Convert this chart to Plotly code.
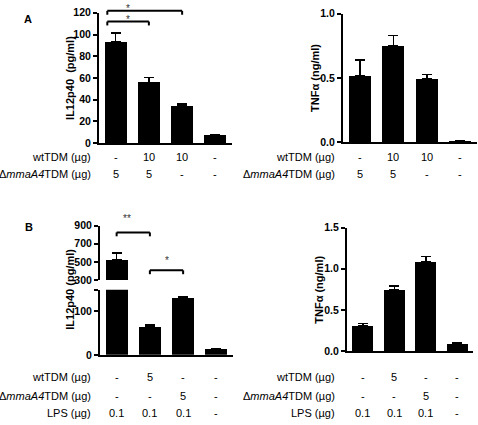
import plotly.graph_objects as go

W, H = 478, 425

# ---------------- data ----------------
groups = [0, 1, 2, 3]

# Panel A
il12_a = [93, 56, 34, 8]
il12_a_err = [8.5, 4.5, 2, 0]
tnf_a = [0.52, 0.75, 0.49, 0.01]
tnf_a_err = [0.12, 0.08, 0.035, 0]
a_row_labels = ["wtTDM (µg)", "Δ<i>mmaA4</i>TDM (µg)"]
a_wt = ["-", "10", "10", "-"]
a_mut = ["5", "5", "-", "-"]
a_sig_pairs = [(0, 2), (0, 1)]
a_sig_text = ["*", "*"]

# Panel B
il12_b = [525, 64, 131, 13]
il12_b_err = [75, 5, 4, 0]
tnf_b = [0.307, 0.745, 1.087, 0.095]
tnf_b_err = [0.025, 0.045, 0.06, 0]
b_row_labels = ["wtTDM (µg)", "Δ<i>mmaA4</i>TDM (µg)", "LPS (µg)"]
b_wt = ["-", "5", "-", "-"]
b_mut = ["-", "-", "5", "-"]
b_lps = ["0.1", "0.1", "0.1", "-"]
b_sig_pairs = [(0, 1), (1, 2)]
b_sig_text = ["**", "*"]

il12_b_break_low = 150   # top of lower segment
il12_b_break_high = 300  # bottom of upper segment

# ---------------- helpers ----------------
def fx(px):
    return px / W

def fy(px):
    return 1 - px / H

FONT = "Liberation Sans, Arial, sans-serif"
BOLD = dict(family=FONT, size=11, color="black")

fig = go.Figure()

def bar(x, y, err, xa, ya):
    fig.add_trace(go.Bar(
        x=x, y=y, xaxis=xa, yaxis=ya, width=0.66,
        marker=dict(color="black", line=dict(width=0)),
        error_y=dict(type="data", symmetric=False, array=err,
                     arrayminus=[0] * len(err), color="black",
                     thickness=1.5, width=5),
        showlegend=False, hoverinfo="skip",
    ))

bar(groups, il12_a, il12_a_err, "x", "y")
bar(groups, tnf_a, tnf_a_err, "x2", "y2")
# broken axis: lower segment
low_err = [e if v <= il12_b_break_low else 0 for v, e in zip(il12_b, il12_b_err)]
bar(groups, il12_b, low_err, "x3", "y3")
# upper segment: only bars that exceed the break
up_vals = [v if v > il12_b_break_high else None for v in il12_b]
up_err = [e if v > il12_b_break_high else 0 for v, e in zip(il12_b, il12_b_err)]
bar(groups, up_vals, up_err, "x3", "y5")
bar(groups, tnf_b, tnf_b_err, "x4", "y4")

def xax(l, r, anchor):
    return dict(domain=[fx(l), fx(r)], anchor=anchor, range=[-0.5, 3.5],
                showticklabels=False, ticks="", showline=True, linewidth=2,
                linecolor="black", showgrid=False, zeroline=False, fixedrange=True)

def yax(b, t, anchor, rng, tv, tt):
    return dict(domain=[fy(b), fy(t)], anchor=anchor, range=rng,
                tickvals=tv, ticktext=tt, ticks="outside", ticklen=4,
                tickwidth=1.5, tickcolor="black", showline=True, linewidth=2,
                linecolor="black", showgrid=False, zeroline=False,
                tickfont=dict(family=FONT, size=10.5, color="black"),
                fixedrange=True)

layout = dict(
    width=W, height=H, margin=dict(l=0, r=0, t=0, b=0),
    paper_bgcolor="white", plot_bgcolor="white", bargap=0,
    xaxis=xax(99, 232, "y"),
    yaxis=yax(141, 7, "x", [0, 120], [0, 20, 40, 60, 80, 100, 120],
              ["<b>%d</b>" % v for v in [0, 20, 40, 60, 80, 100, 120]]),
    xaxis2=xax(343, 477, "y2"),
    yaxis2=yax(140, 8, "x2", [0, 1.0], [0, 0.5, 1.0],
               ["<b>0.0</b>", "<b>0.5</b>", "<b>1.0</b>"]),
    xaxis3=xax(100, 233, "y3"),
    yaxis3=yax(359, 292, "x3", [0, il12_b_break_low], [0, 100, 150],
               ["<b>0</b>", "<b>100</b>", ""]),
    yaxis5=yax(282, 226, "x3", [il12_b_break_high, 900], [300, 500, 700, 900],
               ["<b>300</b>", "<b>500</b>", "<b>700</b>", "<b>900</b>"]),
    xaxis4=xax(347, 473, "y4"),
    yaxis4=yax(355, 228, "x4", [0, 1.5], [0, 0.5, 1.0, 1.5],
               ["<b>0.0</b>", "<b>0.5</b>", "<b>1.0</b>", "<b>1.5</b>"]),
)
fig.update_layout(**layout)

ann = []
shapes = []

# panel letters
ann.append(dict(x=fx(28), y=fy(13), xref="paper", yref="paper", text="<b>A</b>",
                showarrow=False, font=BOLD, xanchor="center", yanchor="middle"))
ann.append(dict(x=fx(29), y=fy(227), xref="paper", yref="paper", text="<b>B</b>",
                showarrow=False, font=BOLD, xanchor="center", yanchor="middle"))

# y axis titles
for x, y, t in [(70, 74, "<b>IL12p40  (pg/ml)</b>"), (315, 74, "<b>TNFα (ng/ml)</b>"),
                (70, 292, "<b>IL12p40 (pg/ml)</b>"), (319, 292, "<b>TNFα (ng/ml)</b>")]:
    ann.append(dict(x=fx(x), y=fy(y), xref="paper", yref="paper", text=t,
                    textangle=-90, showarrow=False,
                    font=dict(family=FONT, size=11, color="black"),
                    xanchor="center", yanchor="middle"))

# condition table rows
REG = dict(family=FONT, size=11, color="black")
def rows(labels, values, ys, label_right, xref):
    for lab, vals, y in zip(labels, values, ys):
        ann.append(dict(x=fx(label_right), y=fy(y), xref="paper", yref="paper",
                        text=lab, showarrow=False, font=REG,
                        xanchor="right", yanchor="middle"))
        for g, v in zip(groups, vals):
            ann.append(dict(x=g, y=fy(y), xref=xref, yref="paper", text=v,
                            showarrow=False, font=REG,
                            xanchor="center", yanchor="middle"))

rows(a_row_labels, [a_wt, a_mut], [155, 173], 93, "x")
rows(a_row_labels, [a_wt, a_mut], [155, 173], 337, "x2")
rows(b_row_labels, [b_wt, b_mut, b_lps], [382, 401, 419], 93, "x3")
rows(b_row_labels, [b_wt, b_mut, b_lps], [382, 401, 419], 337, "x4")

# significance brackets
def bracket(x0, x1, ypx, xref, star, sx, sy):
    for (a, b, c, d) in [(x0, ypx, x1, ypx), (x0, ypx, x0, ypx + 4), (x1, ypx, x1, ypx + 4)]:
        shapes.append(dict(type="line", xref=xref, yref="paper", x0=a, x1=c,
                           y0=fy(b), y1=fy(d), line=dict(color="black", width=2)))
    ann.append(dict(x=sx, y=fy(sy), xref=xref, yref="paper", text=star,
                    showarrow=False, font=dict(family=FONT, size=10, color="#333333"),
                    xanchor="center", yanchor="middle"))

for (i0, i1), s, ypx in zip(a_sig_pairs, a_sig_text, [5, 16]):
    bracket(i0 - 0.25, i1, ypx, "x", s, i0 + 0.37, ypx - 2)
for (i0, i1), s, ypx, sy in zip(b_sig_pairs, b_sig_text, [233, 272], [219, 262]):
    cx = (i0 + i1) / 2
    bracket(i0, i1, ypx, "x3", s, cx - 0.2 if s == "**" else cx, sy)

fig.update_layout(annotations=ann, shapes=shapes)
fig.write_html("out.html", config={"displayModeBar": False},
               post_script="document.body.style.margin='0';document.body.style.padding='0';")
